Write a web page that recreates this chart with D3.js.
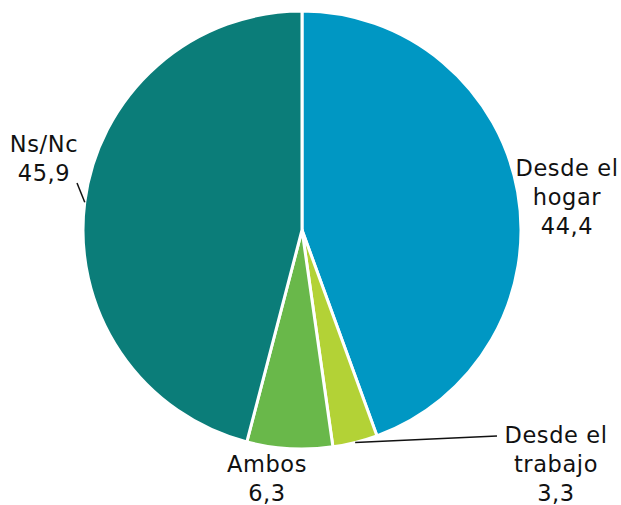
<!DOCTYPE html>
<html><head><meta charset="utf-8">
<script src="https://cdn.jsdelivr.net/npm/d3@7"></script>
<style>body{margin:0;background:#fff}svg{display:block}text{font-family:Verdana,"DejaVu Sans",sans-serif;font-size:22.5px;letter-spacing:0.6px;fill:#111}</style>
</head><body>
<script>
const categories = ["Desde el hogar", "Desde el trabajo", "Ambos", "Ns/Nc"];
const labelLines = [["Desde el", "hogar"], ["Desde el", "trabajo"], ["Ambos"], ["Ns/Nc"]];
const values = [44.4, 3.3, 6.3, 45.9];
const valueLabels = ["44,4", "3,3", "6,3", "45,9"];
const colors = ["#0097c3", "#b3d236", "#69b84a", "#0b7d79"];

const W = 621, H = 505, cx = 302, cy = 230, R = 219;
const svg = d3.select("body").append("svg").attr("width", W).attr("height", H);
const g = svg.append("g").attr("transform", `translate(${cx},${cy})`);

const pie = d3.pie().sort(null).value(d => d);
const arcs = pie(values);
const arc = d3.arc().innerRadius(0).outerRadius(R);

g.selectAll("path.slice").data(arcs).enter().append("path")
  .attr("class", "slice")
  .attr("d", arc)
  .attr("fill", (d, i) => colors[i])
  .attr("stroke", "#fff").attr("stroke-width", 3).attr("stroke-linejoin", "round");

const layout = [
  {x: 265, y: -54, leader: null},
  {x: 254, y: 213, leader: {r0: 219, end: [195, 206]}},
  {x: -35, y: 242, leader: null},
  {x: -258, y: -78, leader: {r0: 219, end: [-225, -47]}}
];
const lh = 29;
arcs.forEach((a, i) => {
  const L = layout[i];
  const lines = labelLines[i].concat([valueLabels[i]]);
  const t = g.append("text").attr("text-anchor", "middle");
  lines.forEach((s, k) => t.append("tspan").attr("x", L.x).attr("y", L.y + k * lh).text(s));
  if (L.leader) {
    const mid = (a.startAngle + a.endAngle) / 2;
    const p0 = [Math.sin(mid) * L.leader.r0, -Math.cos(mid) * L.leader.r0];
    g.append("line").attr("x1", p0[0]).attr("y1", p0[1])
      .attr("x2", L.leader.end[0]).attr("y2", L.leader.end[1])
      .attr("stroke", "#111").attr("stroke-width", 1.5);
  }
});
</script>
</body></html>
